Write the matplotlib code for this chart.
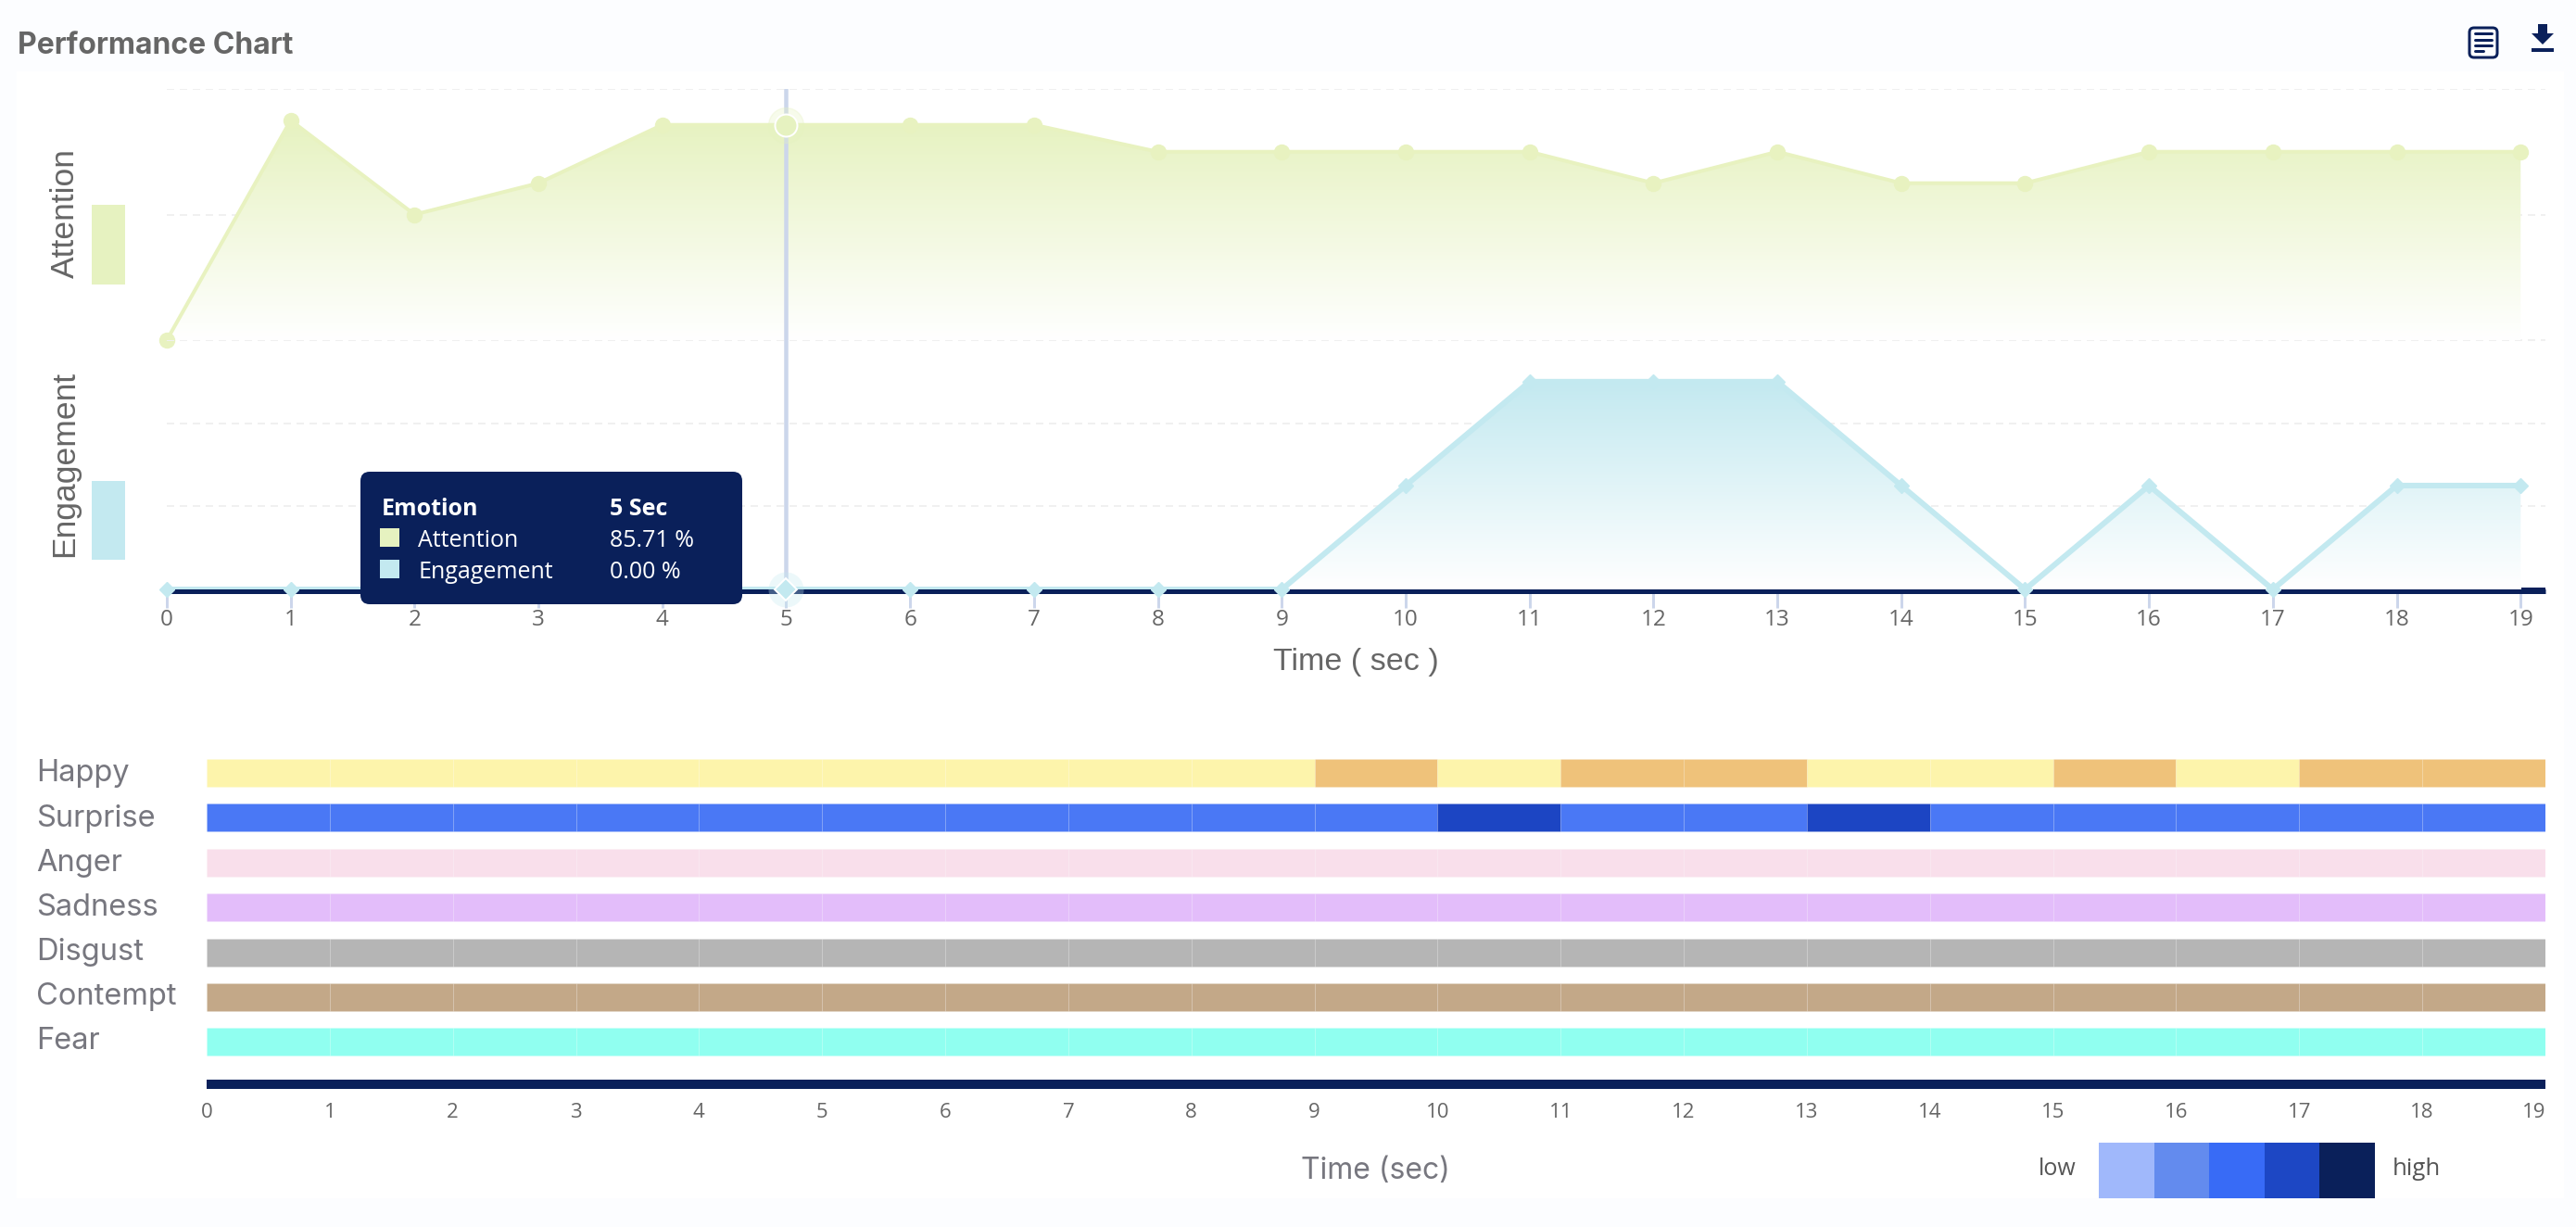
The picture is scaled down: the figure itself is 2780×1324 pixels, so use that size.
import numpy as np
import matplotlib
matplotlib.use("Agg")
import matplotlib.pyplot as plt
from matplotlib.colors import to_rgb
from matplotlib.patches import FancyBboxPatch, Polygon, Rectangle

W, H = 2780, 1324

# Data
seconds = list(range(20))
attention = [0, 87.5, 50, 62.5, 85.71, 85.71, 85.71, 85.71, 75, 75, 75, 75, 62.5, 75, 62.5, 62.5, 75, 75, 75, 75]
engagement = [0, 0, 0, 0, 0, 0, 0, 0, 0, 0, 62.5, 125, 125, 125, 62.5, 0, 62.5, 0, 62.5, 62.5]

emotions = ["Happy", "Surprise", "Anger", "Sadness", "Disgust", "Contempt", "Fear"]
happy_level = [0, 0, 0, 0, 0, 0, 0, 0, 0, 1, 0, 1, 1, 0, 0, 1, 0, 1, 1]
surprise_level = [0, 0, 0, 0, 0, 0, 0, 0, 0, 0, 1, 0, 0, 1, 0, 0, 0, 0, 0]
flat_level = [0] * 19
emotion_levels = [happy_level, surprise_level, flat_level, flat_level, flat_level, flat_level, flat_level]
emotion_colors = [
    ["#fdf4ab", "#efc27a"],
    ["#4a78f5", "#1c45c3"],
    ["#f9dfeb"],
    ["#e3bdfa"],
    ["#b5b5b5"],
    ["#c3a888"],
    ["#90fff0"],
]
scale_colors = ["#a0b8fb", "#638bee", "#386bf6", "#1d47c4", "#0a205a"]

NAVY = "#0a205a"
GREEN = "#e6f2c0"
BLUE = "#c3e9f0"
GRID = "#f0f0f0"
TICK = "#ccd6eb"


def px(v):
    # pixels to points at dpi 100
    return v * 0.72


def px_axes(x0, y0, x1, y1, **kw):
    return fig.add_axes([x0 / W, 1 - y1 / H, (x1 - x0) / W, (y1 - y0) / H], **kw)


def fill_gradient(ax, xs, ys, color, bottom=0):
    # area under the line, fading to white
    rgb = to_rgb(color)
    img = np.ones((256, 1, 3))
    for i in range(3):
        img[:, 0, i] = np.linspace(rgb[i], 1, 256)
    im = ax.imshow(img, extent=(xs[0], xs[-1], bottom, max(ys)), origin="upper", aspect="auto", zorder=1.5)
    poly = Polygon(list(zip(xs, ys)) + [(xs[-1], bottom), (xs[0], bottom)], closed=True, transform=ax.transData)
    im.set_clip_path(poly)


fig = plt.figure(figsize=(W / 100, H / 100), dpi=100, facecolor="#fcfdff")

# white panel
back = fig.add_axes([0, 0, 1, 1], zorder=0)
back.set_xlim(0, W)
back.set_ylim(H, 0)
back.axis("off")
back.add_patch(Rectangle((18, 77), 2749, 1216, color="white", lw=0))

# Attention
ax_att = px_axes(180, 96, 2747, 367, zorder=1)
ax_att.patch.set_alpha(0)
fill_gradient(ax_att, seconds, attention, GREEN)
ax_att.plot(seconds, attention, color="#e8f2c0", lw=px(4), marker="o", ms=px(16), clip_on=False, zorder=3)
ax_att.set_xlim(0, 19.2)
ax_att.set_ylim(0, 100)
ax_att.set_yticks([0, 50, 100])
ax_att.set_xticks([])
ax_att.tick_params(length=0, labelleft=False)
ax_att.grid(axis="y", color=GRID, lw=px(2), ls=(0, (4, 3)))
ax_att.set_axisbelow(True)
for s in ax_att.spines.values():
    s.set_visible(False)

# Engagement
ax_eng = px_axes(180, 367, 2747, 638, zorder=1)
ax_eng.patch.set_alpha(0)
fill_gradient(ax_eng, seconds, engagement, BLUE)
ax_eng.plot(seconds, engagement, color=BLUE, lw=px(6), clip_on=False, zorder=2.4)
ax_eng.plot(seconds, engagement, ls="none", color=BLUE, marker="D", ms=px(11.5), clip_on=False, zorder=3)
ax_eng.set_xlim(0, 19.2)
ax_eng.set_ylim(-1.1, 150)
ax_eng.set_yticks([50, 100, 150])
ax_eng.set_xticks(seconds)
ax_eng.tick_params(axis="y", length=0, labelleft=False)
ax_eng.tick_params(axis="x", length=px(18), width=px(3), color=TICK, labelcolor="#666666", labelsize=17.5, pad=1)
for lab in ax_eng.get_xticklabels():
    lab.set_family("Open Sans")
ax_eng.grid(axis="y", color=GRID, lw=px(2), ls=(0, (4, 3)))
ax_eng.set_axisbelow(True)
for s in ["top", "left", "right"]:
    ax_eng.spines[s].set_visible(False)
ax_eng.spines["bottom"].set_color(NAVY)
ax_eng.spines["bottom"].set_linewidth(px(5))
ax_eng.spines["bottom"].set_zorder(2.5)
ax_eng.spines["bottom"].set_capstyle("butt")

# hover state at 5 sec
hover = 5
ax_att.plot([hover], [attention[hover]], "o", color=GREEN, alpha=0.3, ms=px(38), clip_on=False, zorder=4)
ax_att.plot([hover], [attention[hover]], "o", color=GREEN, mec="white", mew=px(2), ms=px(24), clip_on=False, zorder=5)
ax_eng.plot([hover], [engagement[hover]], "o", color=BLUE, alpha=0.3, mew=0, ms=px(38), clip_on=False, zorder=4)
ax_eng.plot([hover], [engagement[hover]], "D", color=BLUE, mec="white", mew=px(2), ms=px(17), clip_on=False, zorder=5)
ax_att.axvline(hover, color=TICK, lw=px(4.5), zorder=3.5)
ax_eng.axvline(hover, color=TICK, lw=px(4.5), zorder=3.5)

# Emotions
ax_heat = px_axes(223, 819, 2747, 1170, zorder=1)
ax_heat.patch.set_alpha(0)
for row, levels in enumerate(emotion_levels):
    for sec, level in enumerate(levels):
        ax_heat.barh(row, 1, left=sec, height=0.62, color=emotion_colors[row][level],
                     edgecolor=(1, 1, 1, 0.07), linewidth=px(1))
ax_heat.set_xlim(0, 19)
ax_heat.set_ylim(6.942, -0.31)
ax_heat.set_yticks([])
ax_heat.set_xticks(seconds)
ax_heat.tick_params(axis="x", length=0, labelcolor="#666666", labelsize=16, pad=px(20))
for lab in ax_heat.get_xticklabels():
    lab.set_family("Open Sans")
ax_heat.get_xticklabels()[-1].set_ha("right")
for s in ["top", "left", "right"]:
    ax_heat.spines[s].set_visible(False)
ax_heat.spines["bottom"].set_color(NAVY)
ax_heat.spines["bottom"].set_linewidth(px(10))
ax_heat.spines["bottom"].set_capstyle("butt")

# texts, tooltip, icons
ui = fig.add_axes([0, 0, 1, 1], zorder=3)
ui.set_xlim(0, W)
ui.set_ylim(H, 0)
ui.axis("off")

ui.text(19, 50, "Performance Chart", family="Inter", weight="bold", fontsize=23, color="#666666", va="center")

ui.text(70, 230, "Attention", family="Liberation Sans", fontsize=25.5, color="#666666", rotation=90, ha="center", va="center")
ui.text(70, 500, "Engagement", family="Liberation Sans", fontsize=25.5, color="#666666", rotation=90, ha="center", va="center")
ui.add_patch(Rectangle((99, 221), 36, 86, color=GREEN, lw=0))
ui.add_patch(Rectangle((99, 519), 36, 85, color=BLUE, lw=0))
ui.add_patch(Rectangle((2721, 634), 26, 6, color=NAVY, lw=0))

ui.text(1463, 714, "Time ( sec )", family="Liberation Sans", fontsize=24.5, color="#666666", ha="center", va="center")
ui.text(1484, 1263, "Time (sec)", family="Inter", fontsize=23, color="#77777f", ha="center", va="center")

for i, name in enumerate(emotions):
    ui.text(39, 835 + i * 48.1, name, family="Inter", fontsize=23.5, color="#77777f", va="center")

# tooltip
ui.add_patch(FancyBboxPatch((395, 515), 400, 131, boxstyle="round,pad=6,rounding_size=10", fc=NAVY, ec=NAVY, lw=0))
ui.text(412, 549, "Emotion", family="Open Sans", weight="bold", fontsize=18, color="white", va="center")
ui.text(658, 549, "5 Sec", family="Open Sans", weight="bold", fontsize=18, color="white", va="center")
ui.add_patch(Rectangle((410, 570), 21, 20, color=GREEN, lw=0))
ui.add_patch(Rectangle((410, 604), 21, 20, color=BLUE, lw=0))
ui.text(451, 584, "Attention", family="Open Sans", fontsize=18, color="white", va="center")
ui.text(451, 618, "Engagement", family="Open Sans", fontsize=18, color="white", va="center")
ui.text(658, 584, "85.71 %", family="Open Sans", fontsize=18, color="white", va="center")
ui.text(658, 618, "0.00 %", family="Open Sans", fontsize=18, color="white", va="center")

# low/high scale
ui.text(2220, 1262, "low", family="Open Sans", fontsize=18, color="#555555", ha="center", va="center")
ui.text(2608, 1262, "high", family="Open Sans", fontsize=18.5, color="#555555", ha="center", va="center")
for i, c in enumerate(scale_colors):
    ui.add_patch(Rectangle((2265 + i * 59.6, 1233), 59.6, 60, color=c, lw=0))

# report icon
ui.add_patch(FancyBboxPatch((2665, 30), 30, 32, boxstyle="round,pad=0,rounding_size=5", fc="none", ec=NAVY, lw=px(3)))
for y, x1 in [(36, 2689), (43, 2689), (49, 2689), (55, 2680)]:
    ui.plot([2671, x1], [y, y], color=NAVY, lw=px(3), solid_capstyle="round")

# download icon
ui.add_patch(Polygon([(2739, 26), (2749, 26), (2749, 36), (2756, 36), (2744, 48), (2732, 36), (2739, 36)], closed=True, fc=NAVY, lw=0))
ui.add_patch(Rectangle((2732, 52), 24, 4, color=NAVY, lw=0))

fig.savefig("out.png", dpi=100)
